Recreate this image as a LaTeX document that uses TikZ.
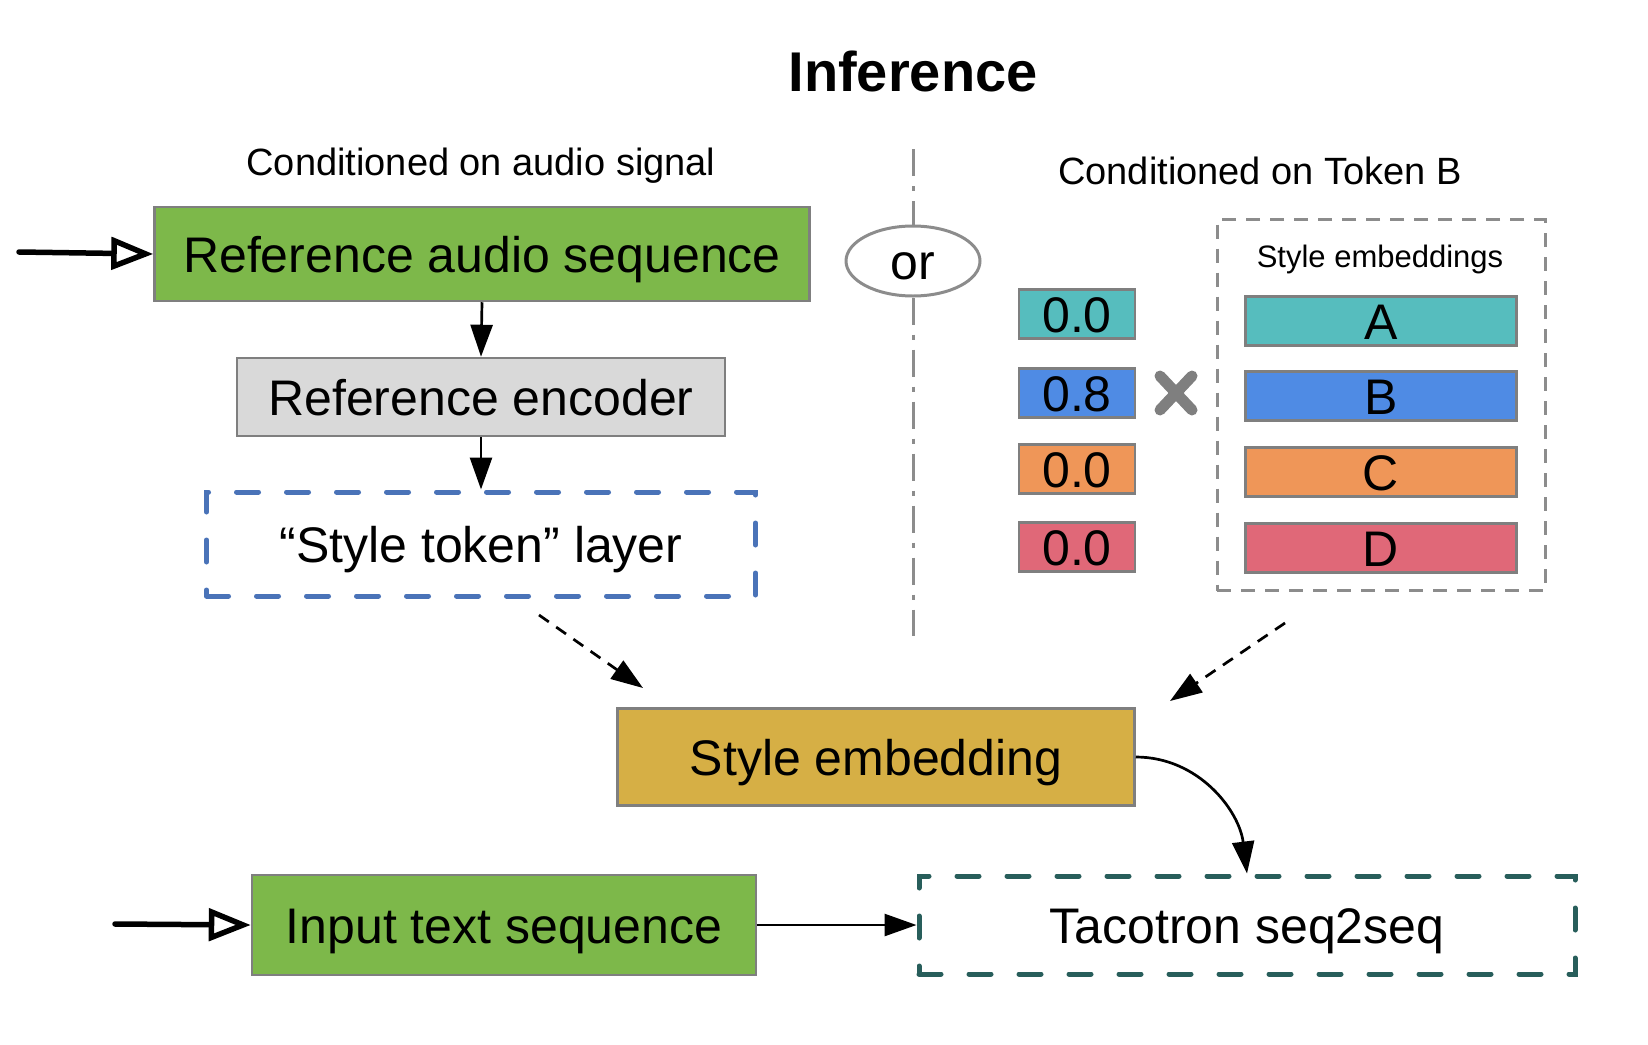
\documentclass[tikz,border=0pt]{standalone}
\usepackage{fontspec}
\setmainfont{Liberation Sans}
\usetikzlibrary{arrows.meta,shapes.geometric}
\definecolor{cgreen}{HTML}{7DB84A}
\definecolor{cgray}{HTML}{D9D9D9}
\definecolor{cborder}{HTML}{7F7F7F}
\definecolor{cteal}{HTML}{56BDBE}
\definecolor{cblue}{HTML}{4F8BE4}
\definecolor{corange}{HTML}{EF9658}
\definecolor{cred}{HTML}{E06878}
\definecolor{cgold}{HTML}{D6AF45}
\definecolor{cdashblue}{HTML}{4A73B8}
\definecolor{cdarkteal}{HTML}{285E5B}
\definecolor{cdivider}{HTML}{8C8C8C}
\begin{document}
\begin{tikzpicture}[x=1pt,y=-1pt,
  big/.style={font=\fontsize{50}{60}\selectfont,text height=36pt,text depth=0pt},
  box/.style={draw=cborder,line width=2.5pt,inner sep=0pt,big},
  dbox/.style={line width=5pt,dash pattern=on 22pt off 28pt,line cap=round,inner sep=0pt,big},
  valbox/.style={box,minimum width=116pt,minimum height=49pt},
  embbox/.style={box,minimum width=271pt,minimum height=49pt},
  conn/.style={line width=2.7pt,-{Triangle[length=32pt,width=22pt]}},
  dconn/.style={conn,dash pattern=on 12pt off 9pt},
  inarrow/.style={line width=5.5pt,line cap=round,-{Triangle[fill=white,length=42pt,width=32pt,line width=5.5pt]}},
  divider/.style={draw=cdivider,line width=3pt,dash pattern=on 27pt off 10pt on 5pt off 10pt},
]
\useasboundingbox (0,0) rectangle (1648,1044);

% titles
\node[font=\fontsize{56}{66}\selectfont\bfseries] (title) at (913,71) {Inference};
\node[font=\fontsize{38}{46}\selectfont] (labA) at (481,166) {Conditioned on audio signal};
\node[font=\fontsize{38}{46}\selectfont] (labB) at (1260,171) {Conditioned on Token B};

% left column
\node[box,fill=cgreen,minimum width=655pt,minimum height=94pt] (ra) at (482,254) {Reference audio sequence};
\node[box,fill=cgray,minimum width=488pt,minimum height=78pt] (re) at (481,397) {Reference encoder};
\node[dbox,draw=cdashblue,minimum width=549pt,minimum height=104pt] (st) at (481,544) {“Style token” layer};

\coordinate (in1) at (19,252);
\draw[inarrow] (in1) -- (ra.west);
\draw[conn] (ra.south) -- (re.north);
\draw[conn] (re.south) -- (st.north);

% divider with "or"
\node[draw=cdivider,line width=3pt,ellipse,minimum width=134pt,minimum height=70pt,inner sep=0pt,big] (or) at (913,261) {or};
\coordinate (divtop) at (913,149);
\coordinate (divbot) at (913,636);
\draw[divider] (divtop) -- (or.north);
\draw[divider] (or.south) -- (divbot);

% weights
\node[valbox,fill=cteal] (w1) at (1077,314) {0.0};
\node[valbox,fill=cblue] (w2) at (1077,393) {0.8};
\node[valbox,fill=corange] (w3) at (1077,469) {0.0};
\node[valbox,fill=cred] (w4) at (1077,547) {0.0};

% times mark
\draw[cborder,line width=11pt,line cap=round] (1160,376) -- (1192,410);
\draw[cborder,line width=11pt,line cap=round] (1160,410) -- (1192,376);

% style embeddings group
\node[draw=cdivider,line width=3pt,dash pattern=on 14pt off 10pt,minimum width=328pt,minimum height=371pt,inner sep=0pt] (grp) at (1381,405) {};
\node[font=\fontsize{31}{38}\selectfont] (grplab) at (1380,259) {Style embeddings};
\node[embbox,fill=cteal] (eA) at (1381,321) {A};
\node[embbox,fill=cblue] (eB) at (1381,396) {B};
\node[embbox,fill=corange] (eC) at (1381,472) {C};
\node[embbox,fill=cred] (eD) at (1381,548) {D};

% style embedding
\node[box,fill=cgold,minimum width=517pt,minimum height=97pt] (se) at (876,757) {Style embedding};
\coordinate (d1s) at (539,615);
\coordinate (d1e) at (643,688);
\coordinate (d2s) at (1285,623);
\coordinate (d2e) at (1170,701);
\draw[dconn] (d1s) -- (d1e);
\draw[dconn] (d2s) -- (d2e);

% bottom row
\node[box,fill=cgreen,minimum width=504pt,minimum height=100pt] (it) at (504,925) {Input text sequence};
\node[dbox,draw=cdarkteal,minimum width=656pt,minimum height=98pt] (tac) at (1247,925) {Tacotron seq2seq};
\coordinate (in2) at (115,924);
\draw[inarrow] (in2) -- (it.west);
\draw[conn] (it.east) -- (tac.west);
\draw[conn] (se.east) to[out=0,in=97] (tac.north);
\end{tikzpicture}
\end{document}
